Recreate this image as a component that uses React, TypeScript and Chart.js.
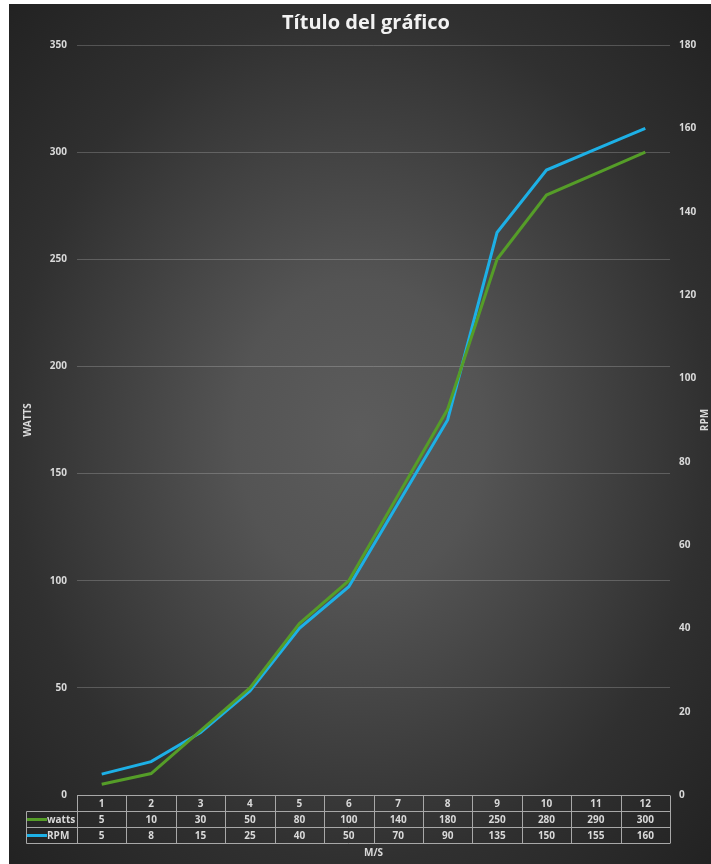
import React, { useEffect, useRef } from "react";
import { Chart, registerables } from "chart.js";

Chart.register(...registerables);

const categories = ["1", "2", "3", "4", "5", "6", "7", "8", "9", "10", "11", "12"];
const watts = [5, 10, 30, 50, 80, 100, 140, 180, 250, 280, 290, 300];
const rpm = [5, 8, 15, 25, 40, 50, 70, 90, 135, 150, 155, 160];
const wattsAxis = { min: 0, max: 350, step: 50 };
const rpmAxis = { min: 0, max: 180, step: 20 };
const titleText = "Título del gráfico";
const leftTitle = "WATTS";
const rightTitle = "RPM";
const xTitle = "M/S";
const seriesNames = ["watts", "RPM"];

const GREEN = "#559d28";
const BLUE = "#1db0e6";
const TEXT = "#d9d9d9";
const FONT = "'Open Sans', 'DejaVu Sans', sans-serif";

const W = 702;
const H = 860;

const decor = {
  id: "decor",
  beforeDraw(chart: any) {
    const ctx = chart.ctx;
    ctx.save();
    const cx = W / 2;
    const cy = H / 2;
    ctx.fillStyle = "#202020";
    ctx.fillRect(0, 0, W, H);
    ctx.translate(cx, cy);
    ctx.scale(1, H / W);
    const r = (W / 2) * 1.42;
    const g = ctx.createRadialGradient(0, 0, 0, 0, 0, r);
    g.addColorStop(0, "#5c5c5c");
    g.addColorStop(0.25, "#545454");
    g.addColorStop(0.7, "#303030");
    g.addColorStop(1, "#222222");
    ctx.fillStyle = g;
    ctx.fillRect(-W, -W * 2, W * 2, W * 4);
    ctx.restore();
  },
  afterDraw(chart: any) {
    const ctx = chart.ctx;
    const { left, right, top, bottom } = chart.chartArea;
    ctx.save();
    // title
    ctx.fillStyle = "#f2f2f2";
    ctx.font = `bold 20px ${FONT}`;
    ctx.textAlign = "center";
    ctx.textBaseline = "middle";
    ctx.fillText(titleText, 357, 19);

    // axis titles
    const midY = (top + bottom) / 2;
    ctx.font = `bold 10px ${FONT}`;
    ctx.fillStyle = TEXT;
    ctx.save();
    ctx.translate(19, midY);
    ctx.rotate(-Math.PI / 2);
    ctx.fillText(leftTitle, 0, 0);
    ctx.restore();
    ctx.save();
    ctx.translate(696, midY);
    ctx.rotate(-Math.PI / 2);
    ctx.fillText(rightTitle, 0, 0);
    ctx.restore();

    // data table
    const n = categories.length;
    const colW = (right - left) / n;
    const rowH = 16;
    const t0 = Math.round(bottom) + 0.5;
    const legL = 17.5;
    ctx.strokeStyle = "#a8a8a8";
    ctx.lineWidth = 1;
    ctx.beginPath();
    ctx.moveTo(left, t0);
    ctx.lineTo(right, t0);
    for (let r = 1; r <= 3; r++) {
      ctx.moveTo(legL, t0 + r * rowH);
      ctx.lineTo(right, t0 + r * rowH);
    }
    ctx.moveTo(legL, t0 + rowH);
    ctx.lineTo(legL, t0 + 3 * rowH);
    for (let k = 0; k <= n; k++) {
      const x = Math.round(left + k * colW) + 0.5;
      ctx.moveTo(x, t0);
      ctx.lineTo(x, t0 + 3 * rowH);
    }
    ctx.stroke();

    const xs = chart.scales.x;
    ctx.font = `bold 10px ${FONT}`;
    ctx.fillStyle = TEXT;
    ctx.textAlign = "center";
    const rows = [categories, watts.map(String), rpm.map(String)];
    rows.forEach((row, ri) => {
      row.forEach((v, i) => {
        ctx.fillText(v, xs.getPixelForValue(i), t0 + ri * rowH + rowH / 2 + 0.5);
      });
    });
    // legend keys
    [GREEN, BLUE].forEach((c, i) => {
      const y = t0 + (i + 1) * rowH + rowH / 2;
      ctx.strokeStyle = c;
      ctx.lineWidth = 3;
      ctx.beginPath();
      ctx.moveTo(18, y);
      ctx.lineTo(38, y);
      ctx.stroke();
      ctx.textAlign = "left";
      ctx.fillStyle = TEXT;
      ctx.fillText(seriesNames[i], 38, y + 0.5);
    });
    // x title
    ctx.textAlign = "center";
    ctx.font = `bold 10px ${FONT}`;
    ctx.fillText(xTitle, (left + right) / 2, 849);
    ctx.restore();
  },
};

export default function App() {
  const ref = useRef<HTMLCanvasElement>(null);
  useEffect(() => {
    if (!ref.current) return;
    const chart = new Chart(ref.current, {
      type: "line",
      data: {
        labels: categories,
        datasets: [
          {
            label: seriesNames[0],
            data: watts,
            borderColor: GREEN,
            backgroundColor: GREEN,
            borderWidth: 3,
            pointRadius: 0,
            tension: 0,
            yAxisID: "y",
          },
          {
            label: seriesNames[1],
            data: rpm,
            borderColor: BLUE,
            backgroundColor: BLUE,
            borderWidth: 3,
            pointRadius: 0,
            tension: 0,
            yAxisID: "y1",
          },
        ],
      },
      options: {
        responsive: false,
        animation: false,
        layout: { padding: { top: 41, bottom: 69, left: 0, right: 0 } },
        plugins: {
          legend: { display: false },
          title: { display: false },
          tooltip: { enabled: false },
        },
        scales: {
          x: {
            type: "category",
            display: false,
            offset: true,
          },
          y: {
            position: "left",
            min: wattsAxis.min,
            max: wattsAxis.max,
            ticks: {
              stepSize: wattsAxis.step,
              color: TEXT,
              font: { family: FONT, size: 10, weight: "bold" },
              padding: 10,
            },
            grid: { color: "rgba(255,255,255,0.2)", drawTicks: false },
            border: { display: false },
            afterFit(s: any) {
              s.width = 68;
            },
          },
          y1: {
            position: "right",
            min: rpmAxis.min,
            max: rpmAxis.max,
            ticks: {
              stepSize: rpmAxis.step,
              color: TEXT,
              font: { family: FONT, size: 10, weight: "bold" },
              padding: 9,
            },
            grid: { display: false, drawTicks: false, drawOnChartArea: false },
            border: { display: false },
            afterFit(s: any) {
              s.width = 41;
            },
          },
        },
      },
      plugins: [decor],
    });
    return () => chart.destroy();
  }, []);
  return (
    <div style={{ position: "absolute", left: 9, top: 4, width: W, height: H }}>
      <canvas ref={ref} width={W} height={H} style={{ display: "block" }} />
    </div>
  );
}
